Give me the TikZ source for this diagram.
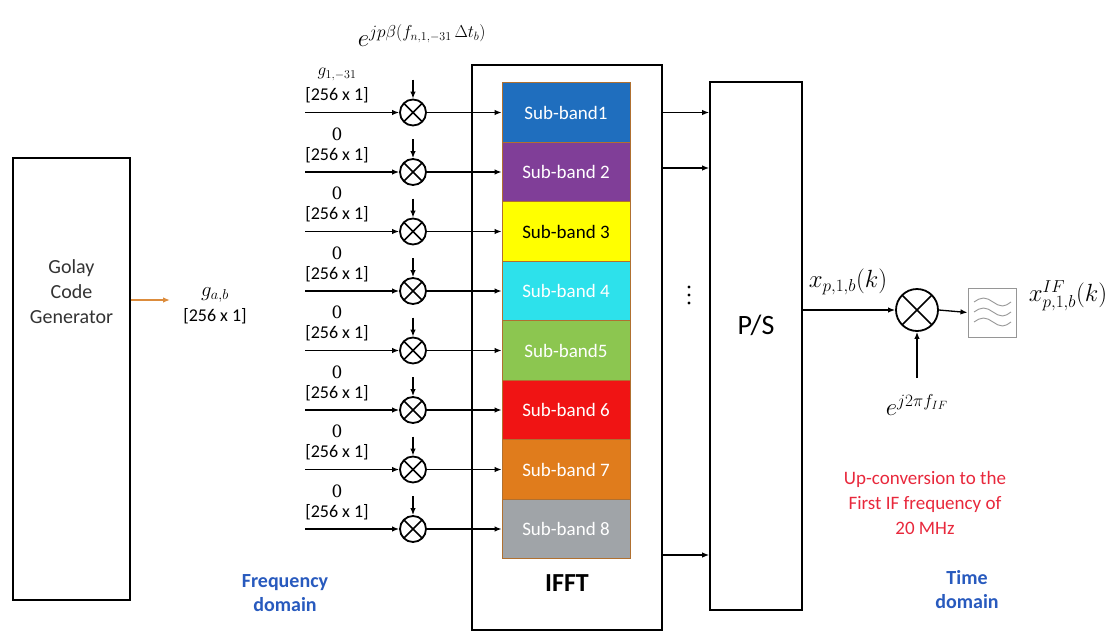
\documentclass[tikz,border=0pt]{standalone}
\usepackage{fontspec}
\setsansfont{Carlito}
\newfontfamily\zerofont{DejaVu Serif}
\usetikzlibrary{arrows.meta,calc}
\definecolor{sbA}{RGB}{31,110,190}
\definecolor{sbB}{RGB}{128,62,152}
\definecolor{sbC}{RGB}{255,255,0}
\definecolor{sbD}{RGB}{45,225,235}
\definecolor{sbE}{RGB}{140,198,80}
\definecolor{sbF}{RGB}{240,20,20}
\definecolor{sbG}{RGB}{224,124,28}
\definecolor{sbH}{RGB}{160,164,168}
\definecolor{sbborder}{RGB}{176,112,48}
\definecolor{orarrow}{RGB}{220,140,60}
\definecolor{domblue}{RGB}{40,90,190}
\definecolor{upred}{RGB}{232,40,60}
\definecolor{fltgray}{RGB}{150,150,150}
\begin{document}
\begin{tikzpicture}[x=1pt,y=-1pt,
  mix/.style={circle,draw,line width=1.8pt,minimum size=26pt,inner sep=0pt,
    path picture={\draw[line width=1.6pt] (path picture bounding box.north west)--(path picture bounding box.south east)
      (path picture bounding box.north east)--(path picture bounding box.south west);}},
  sub/.style={draw=sbborder,line width=0.8pt,minimum width=128pt,minimum height=59.5pt,inner sep=0pt,
    font=\sffamily\fontsize{19}{22}\selectfont},
  arr/.style={-{Latex[length=7pt,width=5.5pt]},line width=1.3pt},
  lbl/.style={font=\sffamily\fontsize{18}{20}\selectfont,inner sep=0pt},
  mlbl/.style={font=\fontsize{24}{28}\selectfont,inner sep=0pt},
  bigbox/.style={draw,line width=1.7pt,inner sep=0pt},
  txt/.style={font=\sffamily\fontsize{20}{25}\selectfont,align=center,inner sep=0pt}
]
\useasboundingbox (0,0) rectangle (1111,635);

% Golay code generator
\node[bigbox,minimum width=117pt,minimum height=442pt] (golay) at (71.5,379) {};
\node[txt,text=black!80] (golaytxt) at (71.5,292) {Golay\\Code\\Generator};
\coordinate (gab) at (170,300);
\draw[-{Latex[length=7pt,width=5.5pt]},line width=1.3pt,draw=orarrow,fill=orarrow] (golay.east |- gab) -- (gab);
\node[font=\fontsize{22}{24}\selectfont,inner sep=0pt] (glbl) at (215,295) {$g_{a,b}$};
\node[lbl] (gdim) at (215,316) {[256 x 1]};

% IFFT box
\node[bigbox,minimum width=190pt,minimum height=565pt] (ifft) at (567,347.5) {};
\node[font=\sffamily\bfseries\fontsize{26}{30}\selectfont,inner sep=0pt] (iffttxt) at (567,583) {IFFT};

% P/S box
\node[bigbox,minimum width=92pt,minimum height=528pt] (ps) at (756,346) {};
\node[font=\sffamily\fontsize{28}{32}\selectfont,inner sep=0pt] (pstxt) at (756,325) {P/S};

% top exponential label
\node[mlbl] (toplbl) at (422,36) {$e^{jp\beta(f_{n,1,-31}\,\Delta t_b)}$};

% sub-bands and mixers
\foreach \i/\col/\tc/\txtt/\lab in {1/sbA/white/Sub-band1/{$g_{1,-31}$},2/sbB/white/Sub-band 2/{\zerofont 0},3/sbC/black/Sub-band 3/{\zerofont 0},
  4/sbD/white/Sub-band 4/{\zerofont 0},5/sbE/white/Sub-band5/{\zerofont 0},6/sbF/white/Sub-band 6/{\zerofont 0},7/sbG/white/Sub-band 7/{\zerofont 0},8/sbH/white/Sub-band 8/{\zerofont 0}}{
  \pgfmathsetmacro{\yy}{112.5+59.5*(\i-1)}
  \node[sub,fill=\col,text=\tc] (sb\i) at (566,\yy) {\txtt};
  \node[mix] (m\i) at (413,\yy) {};
  \coordinate (in\i) at (305,\yy);
  \coordinate (up\i) at (413,\yy-33);
  \node[font=\fontsize{17}{20}\selectfont,inner sep=0pt] (l\i) at (337,\yy-38) {\lab};
  \node[lbl] (d\i) at (337,\yy-17) {[256 x 1]};
  \draw[arr] (in\i) -- (m\i.west);
  \draw[arr] (up\i) -- (m\i.north);
  \draw[arr] (m\i.east) -- (sb\i.west);
}

% IFFT -> P/S
\coordinate (r2) at (662,168);
\coordinate (r8) at (662,555);
\draw[arr] (ifft.east |- sb1) -- (ps.west |- sb1);
\draw[arr] (r2) -- (ps.west |- r2);
\draw[arr] (r8) -- (ps.west |- r8);
\foreach \yy in {287,295,303}{
  \fill (689,\yy) circle (1.6pt);
}

% up-conversion
\node[mix,minimum size=42pt,line width=1.8pt] (mo) at (917,310) {};
\node[draw=fltgray,line width=1pt,minimum width=48pt,minimum height=49pt,inner sep=0pt] (flt) at (992,312.5) {};
\foreach \yy in {302,312,322}{
  \draw[fltgray,line width=0.9pt] (974,\yy) sin (983.5,\yy-4) cos (993,\yy) sin (1002.5,\yy+4) cos (1011,\yy);
}
\draw[arr] (ps.east |- mo) -- (mo.west);
\draw[arr] (mo.east) -- (flt.west);
\coordinate (lo) at (917,378);
\draw[arr] (lo) -- (mo.south);
\node[mlbl] (xlbl) at (848,282) {$x_{p,1,b}(k)$};
\node[mlbl] (xiflbl) at (1068,296) {$x^{IF}_{p,1,b}(k)$};
\node[mlbl] (elbl) at (917,405) {$e^{j2\pi f_{IF}}$};

% annotations
\node[txt,text=upred,font=\sffamily\fontsize{19}{25}\selectfont] (uptxt) at (925,503) {Up-conversion to the\\First IF frequency of\\20 MHz};
\node[txt,text=domblue,font=\sffamily\bfseries\fontsize{20}{24}\selectfont] (freq) at (285,593) {Frequency\\domain};
\node[txt,text=domblue,font=\sffamily\bfseries\fontsize{20}{24}\selectfont] (time) at (967,590) {Time\\domain};
\end{tikzpicture}
\end{document}
